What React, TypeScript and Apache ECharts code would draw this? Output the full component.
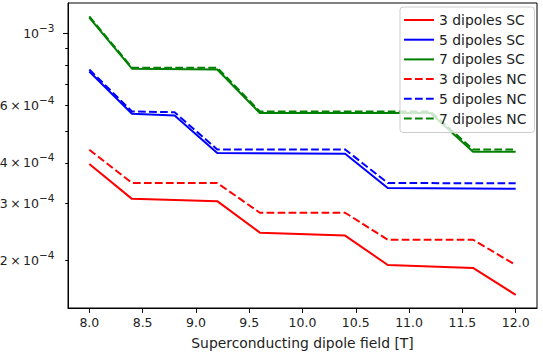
import React, { useEffect, useRef } from "react";
import * as echarts from "echarts";

const redScX = [8.0, 8.4, 9.2, 9.6, 10.4, 10.8, 11.6, 12.0];
const redSc = [3.97e-4, 3.10e-4, 3.05e-4, 2.44e-4, 2.39e-4, 1.94e-4, 1.90e-4, 1.57e-4];
const redNcX = [8.0, 8.4, 9.2, 9.6, 10.4, 10.8, 11.6, 12.0];
const redNc = [4.39e-4, 3.47e-4, 3.47e-4, 2.81e-4, 2.81e-4, 2.32e-4, 2.32e-4, 1.94e-4];
const blueScX = [8.0, 8.4, 8.8, 9.2, 10.4, 10.8, 12.0];
const blueSc = [7.65e-4, 5.67e-4, 5.60e-4, 4.29e-4, 4.27e-4, 3.35e-4, 3.33e-4];
const blueNcX = [8.0, 8.4, 8.8, 9.2, 10.4, 10.8, 12.0];
const blueNc = [7.76e-4, 5.76e-4, 5.73e-4, 4.40e-4, 4.40e-4, 3.47e-4, 3.46e-4];
const greenScX = [8.0, 8.4, 9.2, 9.6, 11.2, 11.6, 12.0];
const greenSc = [1.12e-3, 7.8e-4, 7.76e-4, 5.70e-4, 5.70e-4, 4.33e-4, 4.33e-4];
const greenNcX = [8.0, 8.4, 9.2, 9.6, 11.2, 11.6, 12.0];
const greenNc = [1.13e-3, 7.86e-4, 7.86e-4, 5.76e-4, 5.76e-4, 4.40e-4, 4.40e-4];

const xTicks = [8.0, 8.5, 9.0, 9.5, 10.0, 10.5, 11.0, 11.5, 12.0];
const yMinorTicks = [2e-4, 3e-4, 4e-4, 5e-4, 6e-4, 7e-4, 8e-4, 9e-4];
const yMajorTicks = [1e-3];
const yLabelVals = [2e-4, 3e-4, 4e-4, 6e-4, 1e-3];
const yLabelMant = ["2\u2009×\u200910", "3\u2009×\u200910", "4\u2009×\u200910", "6\u2009×\u200910", "10"];
const yLabelExp = ["−4", "−4", "−4", "−4", "−3"];

const FONT = "DejaVu Sans";
const Y_MIN = 1.43e-4;
const Y_MAX = 1.243e-3;

const zip = (xs: number[], ys: number[]) => xs.map((x, i) => [x, ys[i]]);

export default function App() {
  const ref = useRef<HTMLDivElement>(null);
  useEffect(() => {
    if (!ref.current) return;
    const chart = echarts.init(ref.current, undefined, { renderer: "svg" });
    const mk = (name: string, xs: number[], ys: number[], color: string, dashed: boolean) => ({
      name,
      type: "line",
      xAxisIndex: 0,
      yAxisIndex: 0,
      data: zip(xs, ys),
      symbol: "none",
      showSymbol: false,
      lineStyle: { color, width: 2, type: dashed ? [7.7, 3.3] : "solid" },
      itemStyle: { color },
      z: 2,
    });
    chart.setOption({
      animation: false,
      textStyle: { fontFamily: FONT },
      grid: [
        {
          left: 68, right: 6, top: 3, bottom: 47, show: true, borderColor: "#000", borderWidth: 1,
          backgroundColor: "transparent", containLabel: false, outerBoundsMode: "none",
        },
        { left: 68, right: 6, top: 3, bottom: 47, show: false, containLabel: false, outerBoundsMode: "none" },
      ],
      xAxis: [
        {
          type: "value",
          gridIndex: 0,
          min: 7.8,
          max: 12.2,
          splitLine: { show: false },
          axisLine: { show: true, onZero: false, lineStyle: { color: "#000", width: 1 } },
          axisTick: { show: true, customValues: xTicks, length: 4.9, lineStyle: { color: "#000" } },
          axisLabel: {
            customValues: xTicks,
            formatter: (v: number) => v.toFixed(1),
            color: "#222",
            fontSize: 12.5,
            fontFamily: FONT,
            margin: 8,
          },
          name: "Superconducting dipole field [T]",
          nameLocation: "middle",
          nameGap: 28,
          nameTextStyle: { color: "#222", fontSize: 13.9, fontFamily: FONT },
        },
        { type: "value", gridIndex: 1, min: 7.8, max: 12.2, show: false },
      ],
      yAxis: [
        {
          type: "log",
          logBase: 10,
          gridIndex: 0,
          min: Y_MIN,
          max: Y_MAX,
          splitLine: { show: false },
          axisLine: { show: true, lineStyle: { color: "#000", width: 1 } },
          axisTick: { show: true, customValues: yMinorTicks, length: 2.8, lineStyle: { color: "#000" } },
          axisLabel: {
            customValues: yLabelVals,
            formatter: (v: number) => {
              const i = yLabelVals.findIndex((t) => Math.abs(t - v) / t < 1e-6);
              return i >= 0 ? `{b|${yLabelMant[i]}}{s|${yLabelExp[i]}}` : "";
            },
            color: "#222",
            fontFamily: FONT,
            margin: 13.5,
            rich: {
              b: { fontSize: 12.5, fontFamily: FONT, color: "#222", lineHeight: 22, verticalAlign: "middle" },
              s: { fontSize: 10.5, fontFamily: FONT, color: "#222", lineHeight: 8, verticalAlign: "top" },
            },
          },
        },
        {
          type: "log",
          logBase: 10,
          gridIndex: 1,
          min: Y_MIN,
          max: Y_MAX,
          splitLine: { show: false },
          axisLine: { show: false },
          axisTick: { show: true, customValues: yMajorTicks, length: 4.9, lineStyle: { color: "#000" } },
          axisLabel: { show: false },
        },
      ],
      legend: {
        orient: "vertical",
        left: 400,
        top: 7,
        padding: [6, 8, 7, 3],
        itemWidth: 30,
        itemHeight: 14,
        itemGap: 5.7,
        backgroundColor: "rgba(255,255,255,0.8)",
        borderColor: "#cccccc",
        borderWidth: 1,
        borderRadius: 3,
        itemStyle: { color: "rgba(0,0,0,0)", borderWidth: 0, opacity: 0 },
        textStyle: { fontSize: 13.9, fontFamily: FONT, color: "#222", lineHeight: 14 },
        data: ["3 dipoles SC", "5 dipoles SC", "7 dipoles SC", "3 dipoles NC", "5 dipoles NC", "7 dipoles NC"],
      },
      series: [
        mk("3 dipoles SC", redScX, redSc, "#ff0000", false),
        mk("5 dipoles SC", blueScX, blueSc, "#0000ff", false),
        mk("7 dipoles SC", greenScX, greenSc, "#008000", false),
        mk("3 dipoles NC", redNcX, redNc, "#ff0000", true),
        mk("5 dipoles NC", blueNcX, blueNc, "#0000ff", true),
        mk("7 dipoles NC", greenNcX, greenNc, "#008000", true),
      ],
    });
    return () => chart.dispose();
  }, []);
  return <div ref={ref} style={{ position: "fixed", left: 0, top: 0, width: 543, height: 355, background: "#fff" }} />;
}
